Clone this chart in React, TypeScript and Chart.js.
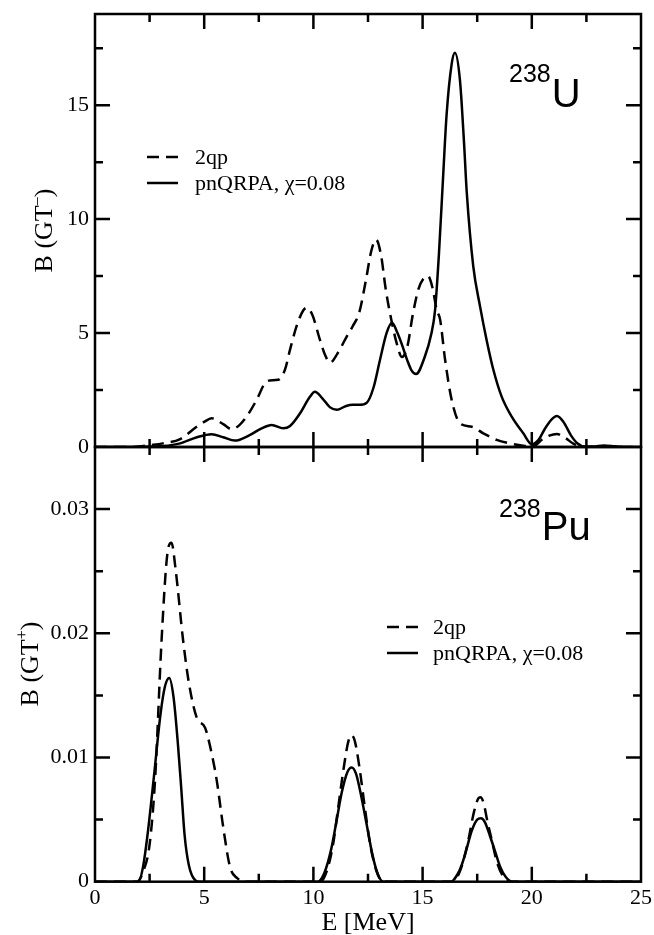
import React, { useEffect, useRef } from "react";
import { Chart, registerables } from "chart.js";

Chart.register(...registerables);

// ---------- data ----------
// 238U, B(GT-) : 2qp (dashed)
const U_2QP_E = [0, 1.5, 2.0, 2.5, 3.1, 3.9, 4.67, 5.0, 5.34, 5.87, 6.26, 6.6, 6.94, 7.4, 7.78, 8.0, 8.38, 8.7, 8.93, 9.23, 9.54, 9.7, 9.95, 10.3, 10.55, 10.76, 11.1, 11.5, 11.8, 12.1, 12.4, 12.65, 12.87, 13.1, 13.3, 13.5, 13.8, 14.05, 14.3, 14.55, 14.8, 15.05, 15.25, 15.45, 15.65, 15.8, 16.03, 16.33, 16.71, 17.25, 17.78, 18.39, 19.15, 19.6, 20.05, 20.5, 20.8, 21.15, 21.5, 21.9, 22.3, 22.8, 25];
const U_2QP_B = [0, 0, 0.02, 0.08, 0.16, 0.35, 0.9, 1.1, 1.26, 1.0, 0.78, 0.95, 1.33, 2.07, 2.8, 2.92, 2.95, 3.4, 4.27, 5.3, 6.0, 6.1, 5.8, 4.7, 4.0, 3.7, 4.1, 4.8, 5.3, 5.9, 7.3, 8.6, 9.1, 8.4, 7.0, 5.9, 4.6, 3.95, 4.4, 5.8, 6.9, 7.4, 7.5, 7.0, 6.0, 5.6, 3.83, 2.07, 1.04, 0.89, 0.6, 0.31, 0.13, 0.06, 0.03, 0.35, 0.5, 0.57, 0.42, 0.15, 0.02, 0, 0];
// 238U, B(GT-) : pnQRPA (solid)
const U_QRPA_E = [0, 2.0, 2.5, 3.1, 3.9, 4.67, 5.34, 5.87, 6.4, 7.1, 7.63, 8.09, 8.62, 8.93, 9.39, 9.84, 10.07, 10.4, 10.75, 11.07, 11.5, 11.8, 12.1, 12.45, 12.75, 13.05, 13.35, 13.6, 13.85, 14.05, 14.3, 14.5, 14.7, 15.1, 15.4, 15.57, 15.75, 15.93, 16.1, 16.33, 16.48, 16.71, 16.9, 17.02, 17.32, 17.63, 17.93, 18.24, 18.62, 19.08, 19.61, 20.0, 20.3, 20.6, 20.9, 21.15, 21.45, 21.8, 22.1, 22.4, 22.8, 23.3, 23.8, 24.2, 25];
const U_QRPA_B = [0, 0, 0.02, 0.04, 0.16, 0.43, 0.56, 0.43, 0.28, 0.53, 0.82, 0.97, 0.82, 0.92, 1.48, 2.2, 2.42, 2.15, 1.75, 1.63, 1.8, 1.85, 1.85, 1.95, 2.6, 3.83, 5.0, 5.45, 5.0, 4.5, 3.8, 3.35, 3.2, 3.96, 4.97, 6.0, 8.5, 11.7, 14.6, 16.8, 17.3, 16.1, 13.3, 11.2, 7.93, 6.17, 4.7, 3.39, 2.21, 1.33, 0.6, 0.12, 0.3, 0.8, 1.2, 1.36, 1.1, 0.5, 0.15, 0.02, 0.02, 0.07, 0.03, 0, 0];

// 238Pu, B(GT+) : 2qp (dashed)
const PU_2QP_E = [0, 1.9, 2.2, 2.5, 2.75, 3.05, 3.3, 3.5, 3.7, 4.03, 4.3, 4.66, 5.04, 5.27, 5.57, 5.87, 6.18, 6.5, 6.9, 10.3, 10.6, 10.9, 11.13, 11.4, 11.6, 11.75, 11.9, 12.1, 12.36, 12.6, 12.9, 13.2, 16.4, 16.7, 16.9, 17.1, 17.35, 17.55, 17.65, 17.8, 17.95, 18.16, 18.4, 18.7, 19.0, 25];
const PU_2QP_B = [0, 0, 0.0008, 0.003, 0.0082, 0.0195, 0.0262, 0.0273, 0.025, 0.0195, 0.016, 0.0132, 0.0124, 0.0109, 0.0082, 0.0044, 0.0012, 0.0003, 0, 0, 0.0008, 0.003, 0.0059, 0.0093, 0.0113, 0.0118, 0.0113, 0.0093, 0.0059, 0.003, 0.0008, 0, 0, 0.0008, 0.0019, 0.0034, 0.0056, 0.0067, 0.0068, 0.0063, 0.005, 0.0034, 0.0016, 0.0004, 0, 0];
// 238Pu, B(GT+) : pnQRPA (solid)
const PU_QRPA_E = [0, 2.0, 2.2, 2.4, 2.7, 3.0, 3.2, 3.4, 3.6, 3.8, 3.95, 4.1, 4.3, 4.6, 4.8, 10.2, 10.5, 10.8, 11.03, 11.3, 11.55, 11.75, 11.95, 12.2, 12.44, 12.7, 12.95, 13.2, 16.3, 16.6, 16.8, 17.0, 17.25, 17.5, 17.67, 17.85, 18.1, 18.3, 18.55, 18.8, 19.1, 25];
const PU_QRPA_B = [0, 0, 0.0012, 0.0037, 0.0085, 0.0135, 0.0157, 0.0164, 0.0148, 0.011, 0.0075, 0.0038, 0.0013, 0.0001, 0, 0, 0.0007, 0.0025, 0.0046, 0.0072, 0.0088, 0.0092, 0.0087, 0.0068, 0.0046, 0.0022, 0.0006, 0, 0, 0.0006, 0.0014, 0.00255, 0.0041, 0.005, 0.0051, 0.0048, 0.0036, 0.00255, 0.0012, 0.0004, 0, 0];

// ---------- ticks / labels ----------
const X_TICKS = [0, 5, 10, 15, 20, 25];
const X_TICK_LABELS = ["0", "5", "10", "15", "20", "25"];
const X_MINOR = [2.5, 7.5, 12.5, 17.5, 22.5];
const U_Y_TICKS = [0, 5, 10, 15];
const U_Y_TICK_LABELS = ["0", "5", "10", "15"];
const U_Y_MINOR = [2.5, 7.5, 12.5, 17.5];
const PU_Y_TICKS = [0, 0.01, 0.02, 0.03];
const PU_Y_TICK_LABELS = ["0", "0.01", "0.02", "0.03"];
const PU_Y_MINOR = [0.005, 0.015, 0.025];
const SERIES_NAMES = ["2qp", "pnQRPA, \u03c7=0.08"];

const SERIF = '"Liberation Serif", "Times New Roman", serif';
const SANS = '"Liberation Sans", Arial, sans-serif';

const pts = (xs: number[], ys: number[]) => xs.map((x, i) => ({ x, y: ys[i] }));

const framePlugin = {
  id: "frameTicks",
  afterDraw(chart: any, _a: any, opts: any) {
    const { ctx, chartArea } = chart;
    const { left, right, top, bottom } = chartArea;
    const xs = chart.scales.x;
    const ys = chart.scales.y;
    ctx.save();
    ctx.strokeStyle = "#000";
    ctx.lineWidth = 2.5;
    ctx.beginPath();
    const seg = (x1: number, y1: number, x2: number, y2: number) => {
      ctx.moveTo(x1, y1);
      ctx.lineTo(x2, y2);
    };
    const doX = (vals: number[], len: number) => {
      for (const v of vals) {
        const p = xs.getPixelForValue(v);
        if (p <= left + 1 || p >= right - 1) continue;
        seg(p, bottom, p, bottom - len);
        seg(p, top, p, top + len);
      }
    };
    const doY = (vals: number[], len: number) => {
      for (const v of vals) {
        const p = ys.getPixelForValue(v);
        if (p <= top + 1 || p >= bottom - 1) continue;
        seg(left, p, left + len, p);
        seg(right, p, right - len, p);
      }
    };
    doX(opts.xMajor, 15);
    doX(opts.xMinor, 8);
    doY(opts.yMajor, 15);
    doY(opts.yMinor, 8);
    ctx.stroke();
    ctx.strokeRect(left, top, right - left, bottom - top);
    ctx.restore();
  },
};

const textPlugin = {
  id: "texts",
  afterDraw(chart: any, _a: any, o: any) {
    const ctx = chart.ctx;
    const dy = o.offsetY;
    ctx.save();
    ctx.fillStyle = "#000";
    ctx.textAlign = "left";
    ctx.textBaseline = "alphabetic";
    {
      const t = o.yTitle;
      ctx.save();
      ctx.translate(t.x, t.y - dy);
      ctx.rotate(-Math.PI / 2);
      ctx.font = `${t.size}px ${SERIF}`;
      const w1 = ctx.measureText(t.main).width;
      const w3 = ctx.measureText(t.tail).width;
      ctx.font = `${Math.round(t.size * 0.62)}px ${SERIF}`;
      const w2 = ctx.measureText(t.sup).width;
      let cx = -(w1 + w2 + w3) / 2;
      ctx.font = `${t.size}px ${SERIF}`;
      ctx.fillText(t.main, cx, 0);
      cx += w1;
      ctx.font = `${Math.round(t.size * 0.62)}px ${SERIF}`;
      ctx.fillText(t.sup, cx, -t.size * 0.42);
      cx += w2;
      ctx.font = `${t.size}px ${SERIF}`;
      ctx.fillText(t.tail, cx, 0);
      ctx.restore();
    }
    if (o.xTitle) {
      ctx.font = `${o.xTitle.size}px ${SERIF}`;
      ctx.textAlign = "center";
      ctx.fillText(o.xTitle.text, o.xTitle.x, o.xTitle.y - dy);
      ctx.textAlign = "left";
    }
    {
      const n = o.nucleus;
      ctx.font = `${n.supSize}px ${SANS}`;
      ctx.fillText(n.mass, n.x, n.supY - dy);
      const w = ctx.measureText(n.mass).width;
      ctx.font = `${n.size}px ${SANS}`;
      ctx.fillText(n.sym, n.x + w + n.gap, n.y - dy);
    }
    {
      const L = o.legend;
      ctx.lineWidth = 2.5;
      ctx.strokeStyle = "#000";
      L.items.forEach((it: any, i: number) => {
        const y = L.y + i * L.spacing - dy;
        ctx.beginPath();
        ctx.setLineDash(it.dash);
        ctx.moveTo(L.x1, y);
        ctx.lineTo(L.x2, y);
        ctx.stroke();
        ctx.setLineDash([]);
        ctx.font = `${L.size}px ${SERIF}`;
        ctx.fillText(it.text, L.tx, y + 7);
      });
    }
    ctx.restore();
  },
};

const zeroPad = (s: any) => {
  s.paddingTop = 0;
  s.paddingBottom = 0;
  s.paddingLeft = 0;
  s.paddingRight = 0;
};

function makeConfig(p: any) {
  return {
    type: "line",
    data: {
      datasets: [
        {
          data: pts(p.e1, p.b1),
          borderColor: "#000",
          borderWidth: 2.5,
          borderDash: [12, 7],
          pointRadius: 0,
          fill: false,
          cubicInterpolationMode: "monotone",
        },
        {
          data: pts(p.e2, p.b2),
          borderColor: "#000",
          borderWidth: 2.5,
          pointRadius: 0,
          fill: false,
          cubicInterpolationMode: "monotone",
        },
      ],
    },
    options: {
      responsive: false,
      animation: false,
      devicePixelRatio: 1,
      events: [],
      layout: { padding: { left: 0, top: p.padTop, right: 13, bottom: 0 } },
      scales: {
        x: {
          type: "linear",
          min: 0,
          max: 25,
          grid: { display: false, drawTicks: false },
          border: { display: false },
          afterBuildTicks: (s: any) => {
            s.ticks = X_TICKS.map((v) => ({ value: v }));
          },
          afterFit: (s: any) => {
            s.height = p.xHeight;
            zeroPad(s);
          },
          ticks: {
            display: p.showX,
            autoSkip: false,
            maxRotation: 0,
            padding: 3,
            color: "#000",
            font: { family: SERIF, size: 22 },
            callback: (_v: any, i: number) => X_TICK_LABELS[i],
          },
        },
        y: {
          type: "linear",
          min: 0,
          max: p.yMax,
          grid: { display: false, drawTicks: false },
          border: { display: false },
          afterBuildTicks: (s: any) => {
            s.ticks = p.yTicks.map((v: number) => ({ value: v }));
          },
          afterFit: (s: any) => {
            s.width = 95;
            zeroPad(s);
          },
          ticks: {
            autoSkip: false,
            padding: 6,
            color: "#000",
            font: { family: SERIF, size: 22 },
            callback: (_v: any, i: number) => p.yLabels[i],
          },
        },
      },
      plugins: {
        legend: { display: false },
        tooltip: { enabled: false },
        frameTicks: { xMajor: X_TICKS, xMinor: X_MINOR, yMajor: p.yTicks, yMinor: p.yMinor },
        texts: p.texts,
      },
    },
    plugins: [framePlugin, textPlugin],
  } as any;
}

export default function App() {
  const topRef = useRef<HTMLCanvasElement>(null);
  const botRef = useRef<HTMLCanvasElement>(null);

  useEffect(() => {
    const legendItems = [
      { text: SERIES_NAMES[0], dash: [12, 7] },
      { text: SERIES_NAMES[1], dash: [] },
    ];
    const top = new Chart(
      topRef.current as HTMLCanvasElement,
      makeConfig({
        e1: U_2QP_E, b1: U_2QP_B, e2: U_QRPA_E, b2: U_QRPA_B,
        padTop: 14, xHeight: 13, showX: false, yMax: 19,
        yTicks: U_Y_TICKS, yLabels: U_Y_TICK_LABELS, yMinor: U_Y_MINOR,
        texts: {
          offsetY: 0,
          yTitle: { x: 52, y: 230.5, main: "B (GT", sup: "\u2013", tail: ")", size: 26 },
          nucleus: { mass: "238", sym: "U", x: 509, supY: 82, supSize: 25, y: 107, size: 40, gap: 1 },
          legend: { x1: 147, x2: 178, tx: 195, y: 157, spacing: 26, size: 22, items: legendItems },
        },
      })
    );
    const bot = new Chart(
      botRef.current as HTMLCanvasElement,
      makeConfig({
        e1: PU_2QP_E, b1: PU_2QP_B, e2: PU_QRPA_E, b2: PU_QRPA_B,
        padTop: 7, xHeight: 53.3, showX: true, yMax: 0.035,
        yTicks: PU_Y_TICKS, yLabels: PU_Y_TICK_LABELS, yMinor: PU_Y_MINOR,
        texts: {
          offsetY: 440,
          yTitle: { x: 38, y: 664, main: "B (GT", sup: "+", tail: ")", size: 26 },
          xTitle: { text: "E [MeV]", x: 368, y: 930, size: 26 },
          nucleus: { mass: "238", sym: "Pu", x: 499, supY: 517, supSize: 25, y: 540, size: 40, gap: 1 },
          legend: { x1: 387, x2: 418, tx: 433, y: 627, spacing: 26, size: 22, items: legendItems },
        },
      })
    );
    return () => {
      top.destroy();
      bot.destroy();
    };
  }, []);

  return (
    <div style={{ position: "absolute", left: 0, top: 0, width: 654, height: 935, background: "#fff" }}>
      <canvas ref={topRef} width={654} height={460} style={{ position: "absolute", left: 0, top: 0 }} />
      <canvas ref={botRef} width={654} height={495} style={{ position: "absolute", left: 0, top: 440 }} />
    </div>
  );
}
